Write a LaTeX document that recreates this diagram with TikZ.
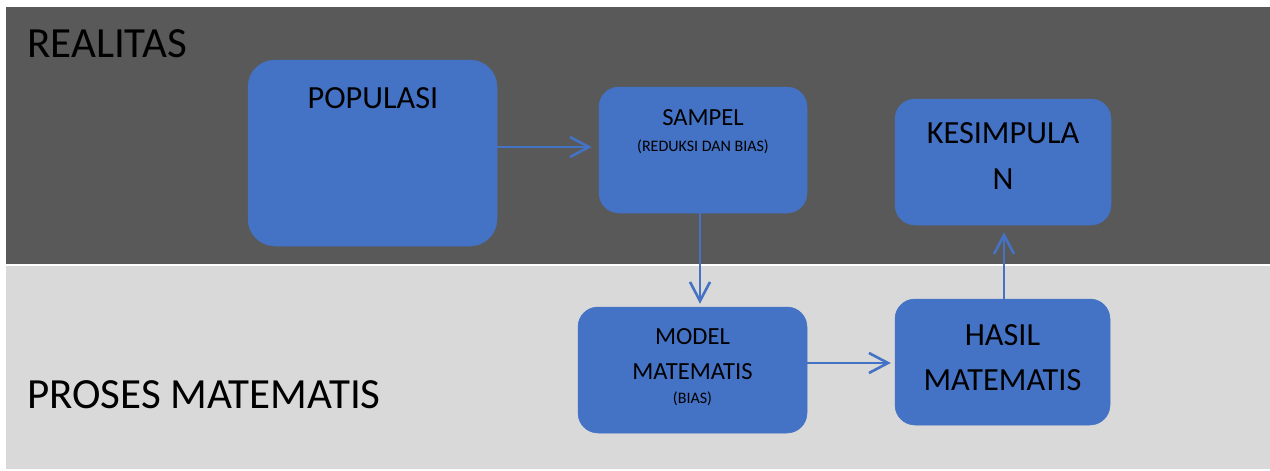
\documentclass[tikz,border=0pt]{standalone}
\usepackage{fontspec}
\setmainfont{Carlito}
\usetikzlibrary{arrows.meta}
\definecolor{boxblue}{HTML}{4472C4}
\definecolor{darkband}{HTML}{595959}
\definecolor{lightband}{HTML}{D9D9D9}
\begin{document}
\begin{tikzpicture}[x=1pt,y=-1pt,
  box/.style={fill=boxblue, draw=boxblue, line width=0.5pt, rounded corners=20pt, inner sep=0pt},
  conn/.style={draw=boxblue, line width=2.6pt, -{Straight Barb[length=19pt,width=20pt]}},
  lbl/.style={anchor=base, inner sep=0pt, text=black},
  big/.style={font=\fontsize{43}{50}\selectfont},
  mid/.style={font=\fontsize{32.3}{38}\selectfont},
  sml/.style={font=\fontsize{24.6}{29}\selectfont},
  tiny/.style={font=\fontsize{16}{19}\selectfont}]
\useasboundingbox (0,0) rectangle (1270,471);
\fill[darkband] (6,7) rectangle (1270,264);
\fill[lightband] (6,266) rectangle (1270,469);

\node[lbl, big, anchor=base west] (realitas) at (27,57) {REALITAS};
\node[lbl, big, anchor=base west] (proses) at (27,408) {PROSES MATEMATIS};

\node[box, rounded corners=27pt, minimum width=249pt, minimum height=186pt] (pop) at (372.5,153) {};
\node[box, minimum width=208pt, minimum height=126pt] (samp) at (703,150) {};
\node[box, minimum width=216pt, minimum height=126pt] (kes) at (1003,162) {};
\node[box, minimum width=229pt, minimum height=126pt] (model) at (692.5,370) {};
\node[box, minimum width=215pt, minimum height=126pt] (hasil) at (1002.5,362) {};

\node[lbl, mid] (tpop) at (373,108) {POPULASI};
\node[lbl, sml] (tsamp) at (703,125) {SAMPEL};
\node[lbl, tiny] (tsamp2) at (703,151) {(REDUKSI DAN BIAS)};
\node[lbl, mid] (tkes1) at (1003,143) {KESIMPULA};
\node[lbl, mid] (tkes2) at (1003,189) {N};
\node[lbl, sml] (tmod1) at (692.5,344) {MODEL};
\node[lbl, sml] (tmod2) at (692.5,379) {MATEMATIS};
\node[lbl, tiny] (tmod3) at (692.5,403) {(BIAS)};
\node[lbl, mid] (thas1) at (1002.5,345) {HASIL};
\node[lbl, mid] (thas2) at (1002.5,390) {MATEMATIS};

\coordinate (c1) at (0,147);
\coordinate (c2) at (700,0);
\coordinate (c3) at (0,363);
\coordinate (c4) at (1004,0);

\draw[conn, shorten >=7pt] (pop.east |- c1) -- (samp.west |- c1);
\draw[conn, shorten >=3pt] (samp.south -| c2) -- (model.north -| c2);
\draw[conn, shorten >=4pt] (model.east |- c3) -- (hasil.west |- c3);
\draw[conn, shorten >=7pt] (hasil.north -| c4) -- (kes.south -| c4);
\end{tikzpicture}
\end{document}
